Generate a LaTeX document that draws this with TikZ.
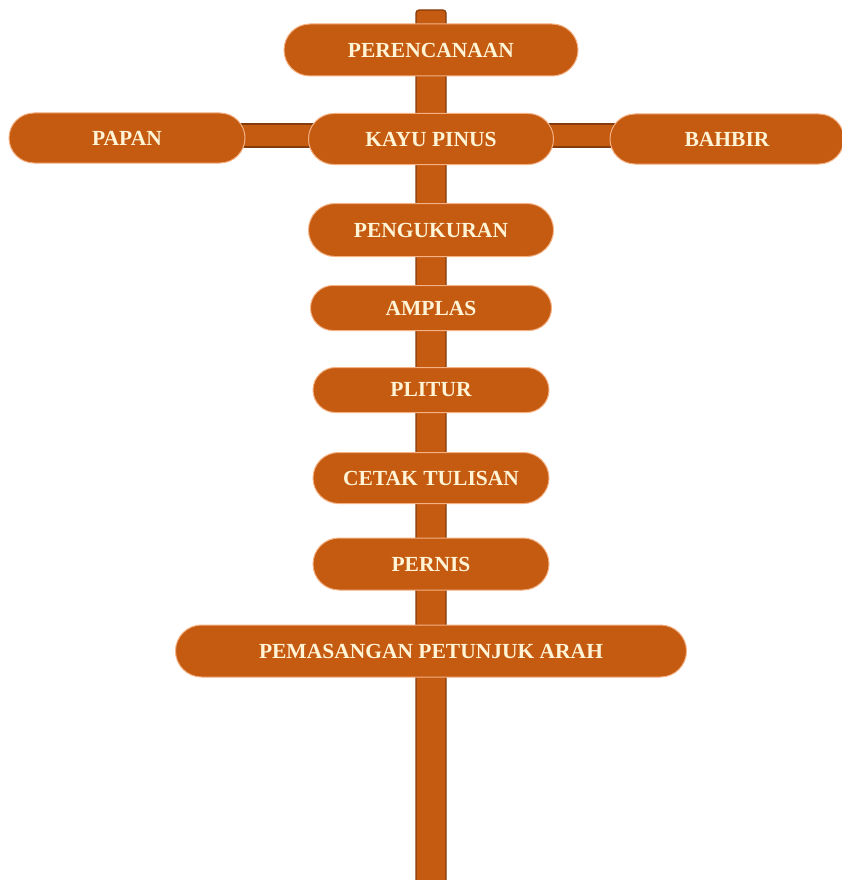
\documentclass[tikz,border=0pt]{standalone}
\usepackage{fontspec}
\setmainfont{Liberation Serif}
\usetikzlibrary{shapes.misc,backgrounds}
\definecolor{woodfill}{RGB}{197,90,17}
\definecolor{wooddark}{RGB}{132,60,12}
\definecolor{woodedge}{RGB}{244,177,131}
\definecolor{signtext}{RGB}{255,244,214}
\begin{document}
\begin{tikzpicture}[x=1pt,y=1pt,yscale=-1,xscale=1,
  sign/.style={rounded rectangle, fill=woodfill, draw=woodedge, line width=1pt,
    text=signtext, font=\fontsize{21.5}{24}\selectfont\bfseries,
    minimum height=52, inner sep=0pt},
  pole/.style={fill=woodfill, draw=wooddark, line width=1.2pt, rounded corners=3pt}]
\useasboundingbox (0,0) rectangle (842,880);

% Pole ends
\coordinate (poletop) at (431,10);
\coordinate (polefoot) at (431,890);

% Signs
\node[sign, minimum width=294] (plan) at (431,50) {PERENCANAAN};
\node[sign, minimum width=245, minimum height=51] (pinus) at (431,139) {KAYU PINUS};
\node[sign, minimum width=236, minimum height=50] (papan) at (127,138) {PAPAN};
\node[sign, minimum width=234, minimum height=50] (bahbir) at (727,139) {BAHBIR};
\node[sign, minimum width=245, minimum height=53] (ukur) at (431,230) {PENGUKURAN};
\node[sign, minimum width=241, minimum height=45] (amplas) at (431,308) {AMPLAS};
\node[sign, minimum width=236, minimum height=45] (plitur) at (431,390) {PLITUR};
\node[sign, minimum width=236, minimum height=51] (cetak) at (431,478) {CETAK TULISAN};
\node[sign, minimum width=236, minimum height=52] (pernis) at (431,564) {PERNIS};
\node[sign, minimum width=511, minimum height=52] (pasang) at (431,651) {PEMASANGAN PETUNJUK ARAH};

% Post and cross bar behind the signs
\begin{pgfonlayer}{background}
\draw[pole] ([xshift=-15pt]poletop) rectangle ([xshift=15pt]polefoot);
\draw[pole, rounded corners=0pt] ([yshift=-14pt]papan.center) rectangle ([yshift=8pt]bahbir.center);
\end{pgfonlayer}
\end{tikzpicture}
\end{document}
